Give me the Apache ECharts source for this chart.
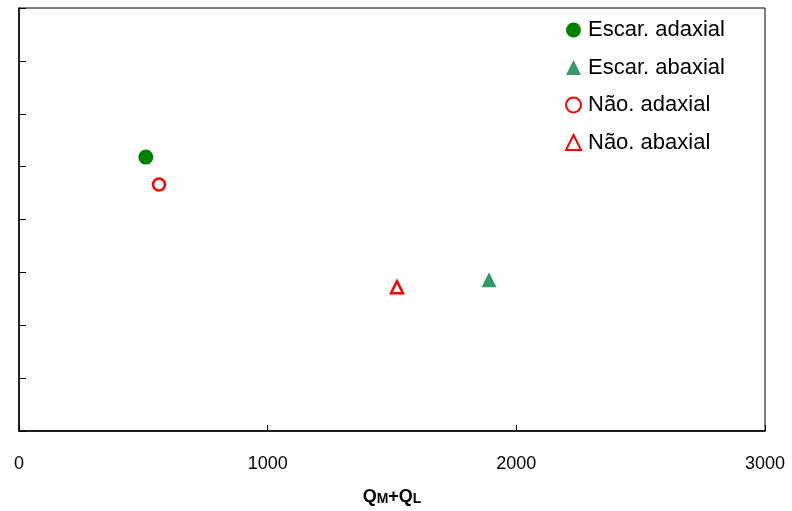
<!DOCTYPE html>
<html><head><meta charset="utf-8">
<script src="https://cdn.jsdelivr.net/npm/echarts@6/dist/echarts.min.js"></script>
<style>html,body{margin:0;padding:0;background:#fff}#c{width:792px;height:511px}</style>
</head><body><div id="c"></div>
<script>
var seriesNames = ['Escar. adaxial', 'Escar. abaxial', 'Não. adaxial', 'Não. abaxial'];
var escarAdaxial = [[510, 5.18]];
var escarAbaxial = [[1890, 2.86]];
var naoAdaxial = [[563, 4.66]];
var naoAbaxial = [[1520, 2.72]];
var xTicks = [0, 1000, 2000, 3000];

var chart = echarts.init(document.getElementById('c'));
var font = 'Liberation Sans, Arial, sans-serif';
chart.setOption({
  animation: false,
  grid: {left: 19, right: 27, top: 8, bottom: 80, outerBoundsMode: 'none', containLabel: false,
         show: true, borderColor: '#000', borderWidth: 1, backgroundColor: 'transparent'},
  legend: {
    orient: 'vertical', left: 560, top: 14, itemGap: 15.5, itemWidth: 15, itemHeight: 15,
    textStyle: {fontFamily: font, fontSize: 22, lineHeight: 22, color: '#000', padding: [0, 0, 0, 2]},
    data: seriesNames
  },
  xAxis: {
    type: 'value', min: 0, max: 3000, interval: 1000,
    axisLine: {lineStyle: {color: '#000', width: 1.5}},
    axisTick: {inside: true, length: 6, lineStyle: {color: '#000'}},
    splitLine: {show: false},
    axisLabel: {margin: 24, fontFamily: font, fontSize: 18, color: '#000',
      formatter: function (v) { return xTicks.indexOf(v) >= 0 ? String(v) : ''; }},
    name: '{b|Q}{s|M}{b|+Q}{s|L}', nameLocation: 'middle', nameGap: 57,
    nameTextStyle: {rich: {
      b: {fontFamily: font, fontSize: 18, fontWeight: 'bold', color: '#000', verticalAlign: 'bottom'},
      s: {fontFamily: font, fontSize: 14, fontWeight: 'bold', color: '#000', verticalAlign: 'bottom'}
    }}
  },
  yAxis: {
    type: 'value', min: 0, max: 8, interval: 1,
    axisLine: {show: true, lineStyle: {color: '#000', width: 1.5}},
    axisTick: {show: true, inside: true, length: 7, lineStyle: {color: '#000'}},
    axisLabel: {show: false},
    splitLine: {show: false}
  },
  series: [
    {name: seriesNames[0], type: 'scatter', data: escarAdaxial, symbol: 'circle', symbolSize: 15,
     itemStyle: {color: '#008000', opacity: 1}},
    {name: seriesNames[1], type: 'scatter', data: escarAbaxial, symbol: 'triangle', symbolSize: 15,
     itemStyle: {color: '#339966', opacity: 1}},
    {name: seriesNames[2], type: 'scatter', data: naoAdaxial, symbol: 'circle', symbolSize: 12,
     itemStyle: {color: '#fff', borderColor: '#ff0000', borderWidth: 2.5, opacity: 1}},
    {name: seriesNames[3], type: 'scatter', data: naoAbaxial, symbol: 'triangle', symbolSize: 12,
     itemStyle: {color: '#fff', borderColor: '#ff0000', borderWidth: 2.5, opacity: 1}}
  ]
});
</script></body></html>
